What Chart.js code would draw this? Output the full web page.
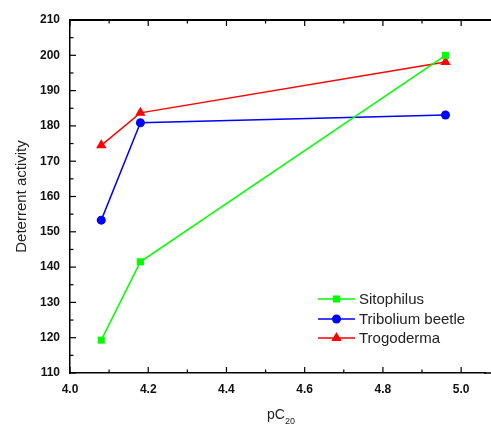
<!DOCTYPE html>
<html>
<head>
<meta charset="utf-8">
<script src="https://cdn.jsdelivr.net/npm/chart.js@4.4.0/dist/chart.umd.min.js"></script>
<style>
  html, body { margin: 0; padding: 0; background: #fff; }
  #wrap { width: 491px; height: 426px; }
</style>
</head>
<body>
<div id="wrap"><canvas id="lineChart"></canvas></div>
<script>
// data
var pc20 = [4.08, 4.18, 4.96];
var sitophilus = [119.3, 141.5, 200.0];
var tribolium = [153.3, 180.9, 183.1];
var trogoderma = [174.5, 183.7, 198.1];
var seriesNames = ["Sitophilus", "Tribolium beetle", "Trogoderma"];
var xTicks = [4.0, 4.2, 4.4, 4.6, 4.8, 5.0];
var yTicks = [110, 120, 130, 140, 150, 160, 170, 180, 190, 200, 210];

function pts(ys) {
  return ys.map(function(y, i) { return {x: pc20[i], y: y}; });
}

// inward ticks, top axis, x title with subscript, legend inside plot
var frame = {
  id: 'frame',
  afterDraw: function(chart) {
    var ctx = chart.ctx;
    var a = chart.chartArea;
    var xs = chart.scales.x, ys = chart.scales.y;
    var v, p, len;
    ctx.save();
    ctx.fillStyle = '#000';
    // top axis line, and both axis lines run to the right edge
    ctx.fillRect(a.left - 1, a.top - 1, chart.width - a.left + 1, 2);
    ctx.fillRect(a.right - 1, a.bottom - 0.75, chart.width - a.right + 1, 1.5);
    for (v = 40; v <= 50; v++) {
      p = xs.getPixelForValue(v / 10);
      len = (v % 2 === 0) ? 6 : 3.5;
      ctx.fillRect(p - 0.6, a.bottom - len, 1.2, len);
      ctx.fillRect(p - 0.6, a.top, 1.2, len);
    }
    for (v = 110; v <= 210; v += 5) {
      p = ys.getPixelForValue(v);
      len = (v % 10 === 0) ? 6 : 3.5;
      ctx.fillRect(a.left, p - 0.6, len, 1.2);
    }

    // x title pC20
    ctx.fillStyle = '#222';
    ctx.textBaseline = 'alphabetic';
    ctx.textAlign = 'left';
    ctx.font = '14px "Liberation Sans", Arial, sans-serif';
    ctx.fillText('pC', 267, 419);
    var w1 = ctx.measureText('pC').width;
    ctx.font = '9px "Liberation Sans", Arial, sans-serif';
    ctx.fillText('20', 267 + w1, 424);

    // legend
    var rows = [299, 319, 338];
    chart.data.datasets.forEach(function(ds, i) {
      var y = rows[i];
      ctx.fillStyle = ds.borderColor;
      ctx.fillRect(318, y - 0.75, 37, 1.5);
      ctx.fillStyle = ds.backgroundColor;
      Chart.helpers.drawPoint(ctx, {pointStyle: ds.pointStyle, radius: ds.pointRadius, borderWidth: 0}, 336.5, y);
      ctx.fillStyle = '#222';
      ctx.font = '15px "Liberation Sans", Arial, sans-serif';
      ctx.textBaseline = 'middle';
      ctx.fillText(ds.label, 359, y + 1);
    });
    ctx.restore();
  }
};

var ctxL = document.getElementById("lineChart").getContext('2d');
var myLineChart = new Chart(ctxL, {
  type: 'scatter',
  data: {
    datasets: [{
      label: seriesNames[0],
      data: pts(sitophilus),
      showLine: true,
      borderColor: '#00ff00',
      backgroundColor: '#00ff00',
      borderWidth: 1.5,
      pointStyle: 'rect',
      pointRadius: 5,
      pointBorderWidth: 0
    },
    {
      label: seriesNames[1],
      data: pts(tribolium),
      showLine: true,
      borderColor: '#0000ff',
      backgroundColor: '#0000ff',
      borderWidth: 1.5,
      pointStyle: 'circle',
      pointRadius: 4.5,
      pointBorderWidth: 0
    },
    {
      label: seriesNames[2],
      data: pts(trogoderma),
      showLine: true,
      borderColor: '#ff0000',
      backgroundColor: '#ff0000',
      borderWidth: 1.5,
      pointStyle: 'triangle',
      pointRadius: 6,
      pointBorderWidth: 0
    }]
  },
  options: {
    responsive: true,
    maintainAspectRatio: false,
    animation: false,
    layout: { padding: { top: 20, right: 0, left: 0, bottom: 0 } },
    plugins: {
      legend: { display: false },
      tooltip: { enabled: false }
    },
    scales: {
      x: {
        type: 'linear',
        min: 4.0,
        max: 5.061,
        afterBuildTicks: function(s) { s.ticks = xTicks.map(function(v) { return {value: v}; }); },
        afterFit: function(s) { s.height = 53; },
        grid: { display: false, drawTicks: false },
        border: { display: true, color: '#000', width: 1.5 },
        ticks: {
          padding: 9,
          color: '#111',
          font: { family: '"Liberation Sans", Arial, sans-serif', size: 12, weight: 'bold' },
          callback: function(v) { return v.toFixed(1); }
        }
      },
      y: {
        min: 110,
        max: 210,
        afterBuildTicks: function(s) { s.ticks = yTicks.map(function(v) { return {value: v}; }); },
        afterFit: function(s) { s.width = 70; },
        grid: { display: false, drawTicks: false },
        border: { display: true, color: '#000', width: 1.5 },
        title: {
          display: true,
          text: 'Deterrent activity',
          color: '#222',
          padding: { top: 13, bottom: 0 },
          font: { family: '"Liberation Sans", Arial, sans-serif', size: 15 }
        },
        ticks: {
          padding: 10,
          color: '#111',
          font: { family: '"Liberation Sans", Arial, sans-serif', size: 12, weight: 'bold' }
        }
      }
    }
  },
  plugins: [frame]
});
</script>
</body>
</html>
